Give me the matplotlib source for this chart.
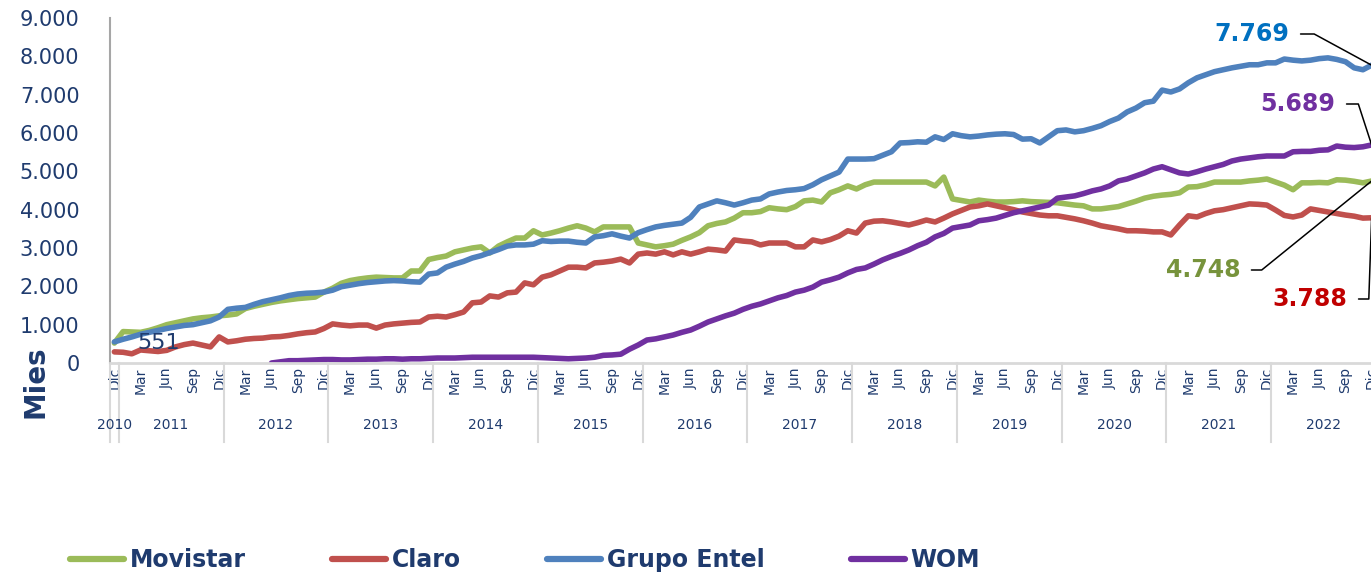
import numpy as np
import matplotlib
matplotlib.use("Agg")
import matplotlib.pyplot as plt
from matplotlib.transforms import blended_transform_factory

# monthly series, Dic 2010 .. Dic 2022 (thousands of lines)
movistar = [520,
    820, 810, 800, 850, 920, 1000, 1050, 1100, 1150, 1180, 1200, 1230,
    1250, 1280, 1420, 1480, 1530, 1580, 1620, 1650, 1680, 1700, 1720, 1850,
    1950, 2080, 2150, 2190, 2220, 2240, 2230, 2220, 2220, 2400, 2400, 2700,
    2750, 2790, 2900, 2950, 3000, 3030, 2870, 3050, 3160, 3260, 3260, 3450,
    3340, 3390, 3450, 3520, 3580, 3520, 3420, 3550, 3550, 3550, 3550, 3130,
    3080, 3030, 3060, 3100, 3200, 3290, 3400, 3580, 3640, 3680, 3780, 3920,
    3920, 3950, 4050, 4020, 4000, 4080, 4230, 4250, 4200, 4440, 4520, 4620,
    4540, 4650, 4720, 4720, 4720, 4720, 4720, 4720, 4720, 4620, 4850, 4280,
    4240, 4200, 4250, 4220, 4200, 4200, 4210, 4230, 4210, 4200, 4190, 4180,
    4150, 4120, 4100, 4020, 4020, 4050, 4080, 4150, 4220, 4300, 4350, 4380,
    4400, 4440, 4590, 4600, 4650, 4720, 4720, 4720, 4720, 4750, 4770, 4800,
    4720, 4640, 4520, 4700, 4700, 4710, 4700, 4780, 4770, 4740, 4700, 4748]

claro = [290,
    280, 240, 340, 320, 300, 330, 420, 480, 520, 470, 420, 680,
    550, 580, 620, 640, 650, 680, 690, 720, 760, 790, 810, 900,
    1020, 990, 970, 990, 990, 910, 990, 1020, 1040, 1060, 1070, 1200,
    1220, 1200, 1260, 1330, 1570, 1590, 1750, 1720, 1830, 1850, 2090, 2040,
    2240, 2300, 2400, 2500, 2500, 2480, 2610, 2630, 2660, 2710, 2610, 2840,
    2870, 2840, 2900, 2820, 2900, 2840, 2900, 2970, 2950, 2920, 3210, 3180,
    3160, 3080, 3130, 3130, 3130, 3030, 3030, 3210, 3160, 3220, 3310, 3450,
    3390, 3650, 3700, 3710, 3680, 3640, 3600, 3660, 3730, 3680, 3780, 3890,
    3980, 4070, 4100, 4150, 4100, 4050, 4000, 3940, 3900, 3860, 3840, 3840,
    3800, 3760, 3710, 3650, 3580, 3540, 3500, 3450, 3450, 3440, 3420, 3420,
    3340, 3600, 3840, 3810, 3900, 3970, 4000, 4050, 4100, 4150, 4140, 4120,
    3990, 3850, 3810, 3860, 4020, 3980, 3940, 3900, 3860, 3830, 3780, 3788]

entel = [551,
    620, 680, 750, 800, 850, 900, 940, 980, 1000, 1050, 1100, 1200,
    1400, 1430, 1450, 1530, 1600, 1650, 1700, 1760, 1800, 1820, 1830, 1850,
    1900, 1990, 2030, 2070, 2100, 2120, 2140, 2150, 2140, 2120, 2110, 2320,
    2350, 2500, 2580, 2650, 2740, 2800, 2880, 2960, 3050, 3080, 3080, 3100,
    3190, 3170, 3180, 3180, 3150, 3130, 3290, 3320, 3370, 3310, 3260, 3400,
    3480, 3550, 3590, 3620, 3650, 3800, 4070, 4150, 4230, 4180, 4120, 4180,
    4250, 4280, 4410, 4460, 4500, 4520, 4550, 4650, 4780, 4880, 4980, 5320,
    5320, 5320, 5330, 5420, 5510, 5740, 5750, 5770, 5760, 5900, 5830, 5980,
    5930, 5900, 5920, 5950, 5970, 5980, 5960, 5840, 5850, 5740, 5900, 6060,
    6080, 6030, 6060, 6120, 6190, 6300, 6390, 6550, 6650, 6790, 6830, 7120,
    7070, 7150, 7310, 7440, 7520, 7600, 7650, 7700, 7740, 7780, 7780, 7830,
    7830, 7930, 7900, 7880, 7900, 7940, 7960, 7920, 7860, 7700, 7650, 7769]

nan = np.nan
wom = [nan,
    nan, nan, nan, nan, nan, nan, nan, nan, nan, nan, nan, nan,
    nan, nan, nan, nan, nan, 0, 30, 60, 60, 70, 80, 90,
    90, 80, 80, 90, 100, 100, 110, 110, 100, 110, 110, 120,
    130, 130, 130, 140, 150, 150, 150, 150, 150, 150, 150, 150,
    140, 130, 120, 110, 120, 130, 150, 200, 210, 230, 360, 470,
    600, 630, 680, 730, 800, 860, 960, 1070, 1150, 1230, 1300, 1400,
    1480, 1540, 1620, 1700, 1760, 1850, 1900, 1980, 2110, 2170, 2240, 2350,
    2440, 2480, 2580, 2690, 2780, 2860, 2950, 3060, 3150, 3290, 3380, 3520,
    3560, 3600, 3710, 3740, 3780, 3850, 3920, 3970, 4020, 4070, 4120, 4300,
    4330, 4360, 4420, 4490, 4540, 4620, 4750, 4800, 4880, 4960, 5060, 5120,
    5040, 4960, 4930, 4990, 5060, 5120, 5180, 5270, 5320, 5350, 5380, 5400,
    5400, 5400, 5510, 5520, 5520, 5550, 5560, 5660, 5630, 5620, 5640, 5689]

month_labels = ["Dic", "Mar", "Jun", "Sep"]
years = [str(y) for y in range(2010, 2023)]
end_labels = ["4.748", "3.788", "7.769", "5.689"]

navy = "#1F3B6E"
series = [("Movistar", movistar, "#9BBB59"),
          ("Claro", claro, "#C0504D"),
          ("Grupo Entel", entel, "#4F81BD"),
          ("WOM", wom, "#7030A0")]

fig = plt.figure(figsize=(13.71, 5.75), dpi=100)
ax = fig.add_axes([110 / 1371, 1 - 363 / 575, 1266 / 1371, 345 / 575])

n = len(entel)
x = np.arange(n)
handles = []
for name, vals, col in series:
    h, = ax.plot(x, vals, color=col, lw=4.0, label=name, solid_capstyle="round")
    handles.append(h)

ax.set_xlim(-0.5, n - 0.5)
ax.set_ylim(0, 9000)
ax.set_yticks(np.arange(0, 9001, 1000))
ax.set_yticklabels([f"{v:,}".replace(",", ".") for v in range(0, 9001, 1000)],
                   fontsize=15, color=navy)
ax.tick_params(axis="y", length=0, pad=22)

ticks = list(range(0, n, 3))
ax.set_xticks(ticks)
ax.set_xticklabels([month_labels[(t // 3) % 4] for t in ticks], rotation=90,
                   fontsize=10, color=navy)
ax.tick_params(axis="x", length=0, pad=3)

for s in ["top", "right"]:
    ax.spines[s].set_visible(False)
ax.spines["left"].set_color("#A6A6A6")
ax.spines["left"].set_linewidth(1.5)
ax.spines["bottom"].set_color("#D9D9D9")
ax.spines["bottom"].set_linewidth(2)

# year groups under the months
tr = blended_transform_factory(ax.transData, ax.transAxes)
seps = [-0.5] + [0.5 + 12 * k for k in range(12)]
for s in seps:
    ax.plot([s, s], [0, -0.23], transform=tr, color="#D9D9D9", lw=1.5, clip_on=False)
for k, yr in enumerate(years):
    if k == 0:
        cx = 0
    else:
        cx = 12 * k - 5.5
    ax.text(cx, -0.18, yr, transform=tr, ha="center", va="center", fontsize=10, color=navy)

fig.text(35 / 1371, 1 - 382 / 575, "Mies", rotation=90, ha="center", va="center",
         fontsize=20, fontweight="bold", color=navy)

# first value label
ax.annotate("551", xy=(0, entel[0]), xytext=(159 / 1371, 1 - 343 / 575),
            textcoords="figure fraction", ha="center", va="center",
            fontsize=16, color=navy)

# end labels with leader lines
ann = [(movistar[-1], end_labels[0], "#77933C", 1203, 270, 39),
       (claro[-1], end_labels[1], "#C00000", 1310, 299, 88),
       (entel[-1], end_labels[2], "#0070C0", 1252, 34, -28.5),
       (wom[-1], end_labels[3], "#7030A0", 1298, 104, -72)]
for val, txt, col, px, py, ang in ann:
    ax.annotate(txt, xy=(n - 1, val), xytext=(px / 1371, 1 - py / 575),
                textcoords="figure fraction", ha="center", va="center",
                fontsize=17, fontweight="bold", color=col, annotation_clip=False,
                arrowprops=dict(arrowstyle="-", color="black", lw=1.1,
                                shrinkA=6, shrinkB=0,
                                connectionstyle=f"angle,angleA=0,angleB={ang},rad=0"))

fig.legend(handles=handles, loc="center left", bbox_to_anchor=(70 / 1371, 1 - 560 / 575),
           ncol=4, frameon=False, borderpad=0, borderaxespad=0,
           handlelength=2.29, handletextpad=0.25, columnspacing=3.64,
           prop={"size": 17, "weight": "bold"}, labelcolor=navy)
for h in fig.legends[0].get_lines():
    h.set_linewidth(4.5)

fig.savefig("out.png", dpi=100)
